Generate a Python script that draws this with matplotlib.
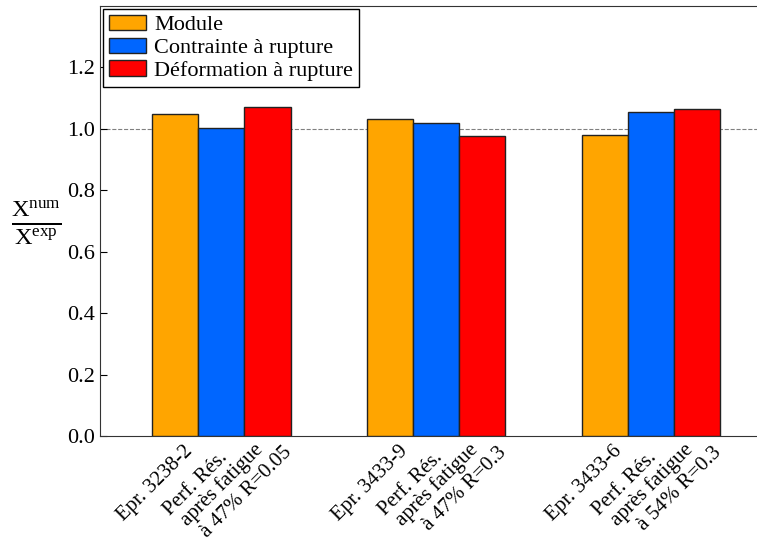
import numpy as np
import matplotlib
matplotlib.use("Agg")
from matplotlib import pyplot as plt

plt.rcParams['font.family'] = ['Liberation Serif', 'DejaVu Serif']
plt.rcParams['mathtext.fontset'] = 'custom'
plt.rcParams['mathtext.rm'] = 'Liberation Serif'
plt.rcParams['mathtext.it'] = 'Liberation Serif:italic'

groups = [["Epr. 3238-2", "Perf. Rés.", "après fatigue", "à 47% R=0.05"],
          ["Epr. 3433-9", "Perf. Rés.", "après fatigue", "à 47% R=0.3"],
          ["Epr. 3433-6", "Perf. Rés.", "après fatigue", "à 54% R=0.3"]]
module = [1.048, 1.033, 0.980]
contrainte = [1.002, 1.020, 1.056]
deformation = [1.072, 0.977, 1.065]
series_names = ["Module", "Contrainte à rupture", "Déformation à rupture"]
colors = ["#FFA500", "#0066FF", "#FF0000"]

fig = plt.figure(figsize=(7.57, 5.44), dpi=100)
ax = fig.add_axes([0.1321, 0.1985, 0.8706, 0.7905])

x = np.arange(len(groups))
w = 0.215
for k, (vals, name, c) in enumerate(zip([module, contrainte, deformation], series_names, colors)):
    ax.bar(x + (k - 0.5) * w, vals, w, color=c, edgecolor="#222222", linewidth=1.0,
           label=name, zorder=3)

ax.axhline(1.0, color="gray", linestyle="--", linewidth=0.8, zorder=1)

ax.set_xlim(-0.458, 2.612)
ax.set_ylim(0, 1.4)
ax.set_yticks([0.0, 0.2, 0.4, 0.6, 0.8, 1.0, 1.2])
ax.set_yticklabels(["0.0", "0.2", "0.4", "0.6", "0.8", "1.0", "1.2"])
ax.tick_params(axis='y', direction='in', length=5, labelsize=16, pad=3.5, right=False)
ax.set_xticks(x)
ax.set_xticklabels([])
ax.tick_params(axis='x', length=0)
for s in ax.spines.values():
    s.set_color("#333333")

# multi-line tick labels, each line placed on its own (offsets in pixels -> points)
px = 0.72
line_dx = [-15, 20, 55, 84]
line_dy = [6, 12, 4, 7]
for i, lines in enumerate(groups):
    for j, line in enumerate(lines):
        ax.annotate(line, xy=(x[i], 0), xycoords=ax.get_xaxis_transform(),
                    xytext=(line_dx[j] * px, -line_dy[j] * px), textcoords='offset points',
                    rotation=45, rotation_mode='anchor', ha='right', va='top',
                    fontsize=15, annotation_clip=False)

ax.set_ylabel(r"$\frac{\mathrm{X}^{\mathrm{num}}}{\mathrm{X}^{\mathrm{exp}}}$",
              rotation=0, fontsize=25, va='center')
ax.yaxis.set_label_coords(-0.096, 0.497)

leg = ax.legend(loc='upper left', fontsize=16, fancybox=False, framealpha=1,
                edgecolor='black', borderpad=0.25, labelspacing=0.1,
                handlelength=1.65, handleheight=0.7, handletextpad=0.4,
                borderaxespad=0.15)
leg.get_frame().set_linewidth(1.0)

fig.savefig("out.png", dpi=100)
